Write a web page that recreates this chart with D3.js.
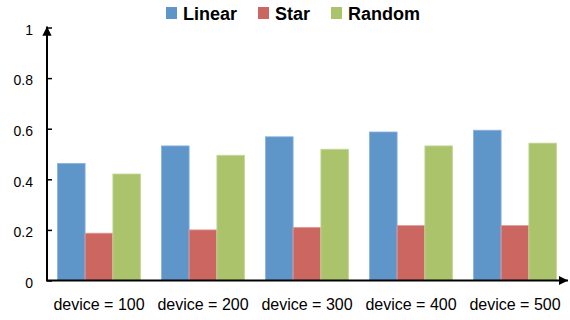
<!DOCTYPE html>
<html>
<head>
<meta charset="utf-8">
<script src="https://cdn.jsdelivr.net/npm/d3@7/dist/d3.min.js"></script>
<style>
  html, body { margin: 0; padding: 0; background: #fff; }
  svg { display: block; }
</style>
</head>
<body>
<svg id="chart" width="570" height="320"></svg>
<script>
// Chart data
const categories = ["device = 100", "device = 200", "device = 300", "device = 400", "device = 500"];
const seriesNames = ["Linear", "Star", "Random"];
const linearValues = [0.463, 0.532, 0.568, 0.587, 0.594];
const starValues = [0.187, 0.200, 0.210, 0.217, 0.217];
const randomValues = [0.421, 0.495, 0.519, 0.532, 0.543];
const yTicks = [0, 0.2, 0.4, 0.6, 0.8, 1];
const yTickLabels = ["0", "0.2", "0.4", "0.6", "0.8", "1"];

const seriesValues = [linearValues, starValues, randomValues];
const colors = ["#5f96ca", "#cc6661", "#abc46b"];
const strokes = ["#8db4dc", "#e09a96", "#c8d99c"];

const svg = d3.select("#chart");
const plotLeft = 47, plotRight = 567, plotTop = 27.5, plotBottom = 280.5;

const x0 = d3.scaleBand().domain(categories).range([plotLeft, plotRight])
  .paddingInner(0.2).paddingOuter(0.1);
const x1 = d3.scaleBand().domain(seriesNames).range([0, x0.bandwidth()]);
const y = d3.scaleLinear().domain([0, 1]).range([plotBottom, plotTop]);

const rows = categories.map((c, i) => ({
  cat: c,
  vals: seriesNames.map((s, j) => ({ s, j, v: seriesValues[j][i] }))
}));

// Bars
const groups = svg.append("g").selectAll("g").data(rows).join("g")
  .attr("transform", d => `translate(${x0(d.cat)},0)`);
groups.selectAll("rect").data(d => d.vals).join("rect")
  .attr("x", d => x1(d.s))
  .attr("y", d => y(d.v))
  .attr("width", x1.bandwidth())
  .attr("height", d => y(0) - y(d.v))
  .attr("fill", d => colors[d.j])
  .attr("stroke", d => strokes[d.j])
  .attr("stroke-width", 0.8);

// Y axis ticks and labels
const yAxis = d3.axisLeft(y).tickValues(yTicks)
  .tickFormat((d, i) => yTickLabels[i])
  .tickSizeInner(-5).tickSizeOuter(0).tickPadding(14);
const gy = svg.append("g").attr("transform", `translate(${plotLeft},0)`).call(yAxis);
gy.select(".domain").remove();
gy.selectAll(".tick line").attr("stroke", "#000").attr("stroke-width", 1.5);
gy.selectAll(".tick text")
  .attr("font-family", "'Liberation Sans', Arial, sans-serif")
  .attr("font-size", 14).attr("fill", "#000").attr("dy", "0.48em");

// X axis labels
const xAxis = d3.axisBottom(x0).tickSize(0).tickPadding(18);
const gx = svg.append("g").attr("transform", `translate(0,${plotBottom})`).call(xAxis);
gx.select(".domain").remove();
gx.selectAll(".tick text")
  .attr("font-family", "'Liberation Sans', Arial, sans-serif")
  .attr("font-size", 16).attr("fill", "#000");

// Axis lines with arrowheads
const defs = svg.append("defs");
defs.append("marker").attr("id", "arrow")
  .attr("viewBox", "0 0 10 10").attr("refX", 10).attr("refY", 5)
  .attr("markerWidth", 4.6).attr("markerHeight", 4.6)
  .attr("markerUnits", "strokeWidth")
  .attr("orient", "auto")
  .append("path").attr("d", "M0,0 L10,5 L0,10 Z").attr("fill", "#000");

svg.append("line")
  .attr("x1", plotLeft).attr("y1", plotBottom).attr("x2", plotLeft).attr("y2", y(1) - 1)
  .attr("stroke", "#000").attr("stroke-width", 2).attr("marker-end", "url(#arrow)");
svg.append("line")
  .attr("x1", plotLeft - 1).attr("y1", plotBottom).attr("x2", plotRight + 1).attr("y2", plotBottom)
  .attr("stroke", "#000").attr("stroke-width", 2).attr("marker-end", "url(#arrow)");

// Legend
const legendX = [166, 258, 331];
const legend = svg.append("g").selectAll("g").data(seriesNames).join("g")
  .attr("transform", (d, i) => `translate(${legendX[i]},7)`);
legend.append("rect").attr("width", 11).attr("height", 12)
  .attr("fill", (d, i) => colors[i]);
legend.append("text").attr("x", 17).attr("y", 13)
  .attr("font-family", "'Liberation Sans', Arial, sans-serif")
  .attr("font-weight", "bold").attr("font-size", 18).attr("fill", "#000")
  .text(d => d);
</script>
</body>
</html>
